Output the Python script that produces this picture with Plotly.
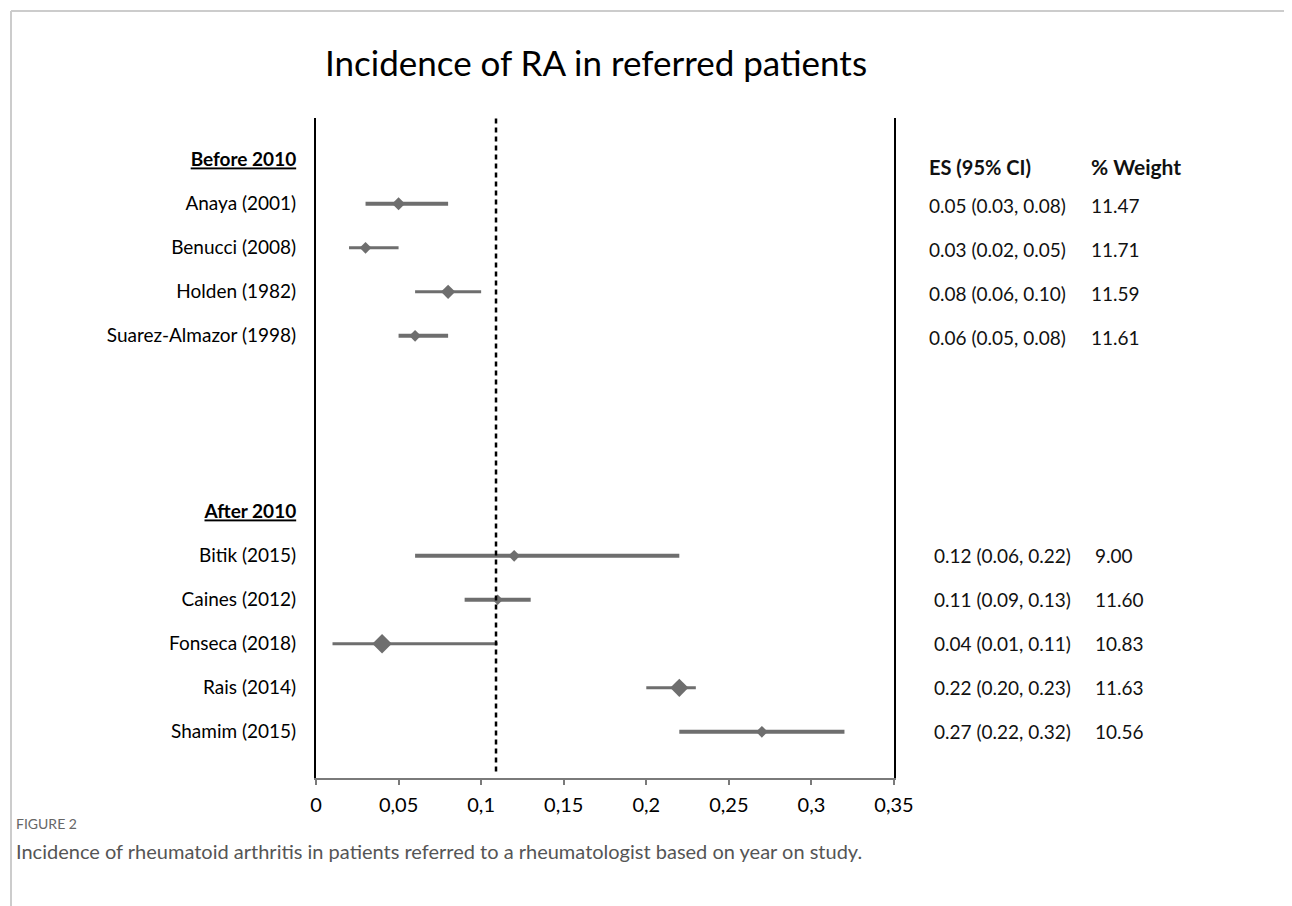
import plotly.graph_objects as go

TITLE = "Incidence of RA in referred patients"
CAPTION_LABEL = "FIGURE 2"
CAPTION = "Incidence of rheumatoid arthritis in patients referred to a rheumatologist based on year on study."
GROUPS = ["Before 2010", "After 2010"]
COL_HEADERS = ["ES (95% CI)", "% Weight"]

STUDIES_BEFORE = ["Anaya (2001)", "Benucci (2008)", "Holden (1982)", "Suarez-Almazor (1998)"]
ES_BEFORE = [0.05, 0.03, 0.08, 0.06]
LO_BEFORE = [0.03, 0.02, 0.06, 0.05]
HI_BEFORE = [0.08, 0.05, 0.10, 0.08]
WT_BEFORE = [11.47, 11.71, 11.59, 11.61]

STUDIES_AFTER = ["Bitik (2015)", "Caines (2012)", "Fonseca (2018)", "Rais (2014)", "Shamim (2015)"]
ES_AFTER = [0.12, 0.11, 0.04, 0.22, 0.27]
LO_AFTER = [0.06, 0.09, 0.01, 0.20, 0.22]
HI_AFTER = [0.22, 0.13, 0.11, 0.23, 0.32]
WT_AFTER = [9.00, 11.60, 10.83, 11.63, 10.56]

POOLED = 0.109
X_TICKS = [0, 0.05, 0.10, 0.15, 0.20, 0.25, 0.30, 0.35]
X_TICK_LABELS = ["0", "0,05", "0,1", "0,15", "0,2", "0,25", "0,3", "0,35"]

# styles (not data)
MSIZE_BEFORE = [10, 9, 11, 9]
MSIZE_AFTER = [9, 8, 15, 14, 9]
LW_BEFORE = [4, 3, 3, 4]
LW_AFTER = [4, 4, 3, 3, 4]
GRAY = "#6e6e6e"
FONT = "Lato"

OFF = 8  # page body margin
W, H = 1292 - OFF, 906 - OFF
L, R, T, B = 316 - OFF, 894 - OFF, 118 - OFF, 778 - OFF


def px_x(p):
    return (p - OFF - L) / (R - L)


def px_y(p):
    return 1 - (p - OFF - T) / (B - T)


fig = go.Figure()

groups = [
    (GROUPS[0], STUDIES_BEFORE, ES_BEFORE, LO_BEFORE, HI_BEFORE, WT_BEFORE, MSIZE_BEFORE, LW_BEFORE, 0),
    (GROUPS[1], STUDIES_AFTER, ES_AFTER, LO_AFTER, HI_AFTER, WT_AFTER, MSIZE_AFTER, LW_AFTER, 8),
]

tickvals, ticktext = [], []
annotations = []
es_x = {0: 927, 8: 932}
wt_x = {0: 1089, 8: 1093}
for gname, studies, es, lo, hi, wt, ms, lw, start in groups:
    tickvals.append(start)
    ticktext.append(f"<b><u>{gname}</u></b>")
    for i, s in enumerate(studies):
        row = start + 1 + i
        tickvals.append(row)
        ticktext.append(s)
        fig.add_trace(go.Scatter(
            x=[es[i]], y=[row], mode="markers",
            marker=dict(symbol="diamond", size=ms[i], color=GRAY),
            error_x=dict(type="data", symmetric=False,
                         array=[hi[i] - es[i]], arrayminus=[es[i] - lo[i]],
                         color=GRAY, thickness=lw[i], width=0),
            showlegend=False, hoverinfo="skip",
        ))
        yshift = -2 if start == 0 else 0
        annotations.append(dict(
            x=px_x(es_x[start]), xref="paper", y=row, yref="y",
            text=f"{es[i]:.2f} ({lo[i]:.2f}, {hi[i]:.2f})", showarrow=False,
            xanchor="left", yanchor="middle", yshift=yshift,
            font=dict(family=FONT, size=19, color="#111111")))
        annotations.append(dict(
            x=px_x(wt_x[start]), xref="paper", y=row, yref="y",
            text=f"{wt[i]:.2f}", showarrow=False,
            xanchor="left", yanchor="middle", yshift=yshift,
            font=dict(family=FONT, size=19, color="#111111")))

# column headers
annotations.append(dict(x=px_x(927), xref="paper", y=0, yref="y", yshift=-7,
                        text=f"<b>{COL_HEADERS[0]}</b>", showarrow=False,
                        xanchor="left", yanchor="middle",
                        font=dict(family=FONT, size=20, color="#111111")))
annotations.append(dict(x=px_x(1089), xref="paper", y=0, yref="y", yshift=-7,
                        text=f"<b>{COL_HEADERS[1]}</b>", showarrow=False,
                        xanchor="left", yanchor="middle",
                        font=dict(family=FONT, size=21, color="#111111")))
# caption
annotations.append(dict(x=px_x(14), xref="paper", y=px_y(824), yref="paper",
                        text=CAPTION_LABEL, showarrow=False,
                        xanchor="left", yanchor="middle",
                        font=dict(family=FONT, size=14, color="#666666")))
annotations.append(dict(x=px_x(14), xref="paper", y=px_y(851), yref="paper",
                        text=CAPTION, showarrow=False,
                        xanchor="left", yanchor="middle",
                        font=dict(family=FONT, size=20, color="#555555")))

shapes = [
    dict(type="line", xref="x", yref="paper", x0=POOLED, x1=POOLED, y0=0.01, y1=1,
         line=dict(color="black", width=2.5, dash="5px,4px")),
    dict(type="line", xref="paper", yref="paper", x0=px_x(11), x1=px_x(1300),
         y0=px_y(11), y1=px_y(11), line=dict(color="#cccccc", width=2)),
    dict(type="line", xref="paper", yref="paper", x0=px_x(11), x1=px_x(11),
         y0=px_y(11), y1=px_y(920), line=dict(color="#cccccc", width=2)),
]

fig.update_layout(
    width=W, height=H,
    margin=dict(l=L, r=W - R, t=T, b=H - B),
    paper_bgcolor="white", plot_bgcolor="white",
    title=dict(text=TITLE, x=(596 - OFF) / W, xanchor="center", xref="container",
               y=1 - (64 - OFF) / H, yanchor="middle", yref="container",
               font=dict(family=FONT, size=35, color="black")),
    xaxis=dict(range=[0, 0.35], tickvals=X_TICKS, ticktext=X_TICK_LABELS,
               showline=True, linecolor="#7a7a7a", linewidth=2,
               ticks="outside", ticklen=5, tickwidth=1.5, tickcolor="#7a7a7a",
               showgrid=False, zeroline=False, ticklabelstandoff=3,
               tickfont=dict(family=FONT, size=20, color="black")),
    yaxis=dict(range=[14.05, -0.95], tickvals=tickvals, ticktext=ticktext,
               showline=True, mirror=True, linecolor="black", linewidth=2,
               ticks="", showgrid=False, zeroline=False, ticklabelstandoff=14,
               tickfont=dict(family=FONT, size=19, color="black")),
    annotations=annotations,
    shapes=shapes,
)

fig.write_html("out.html")
